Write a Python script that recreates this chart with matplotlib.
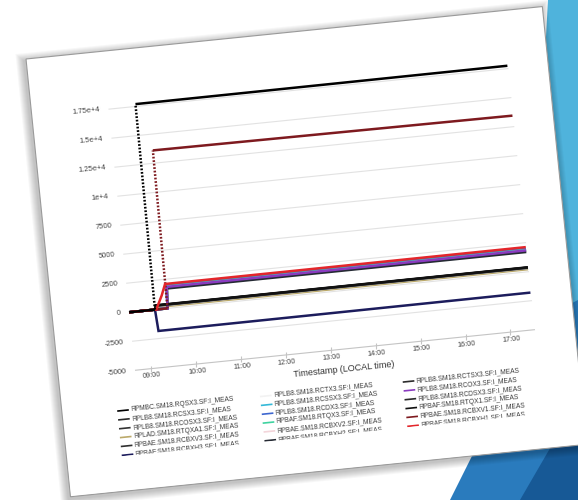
import matplotlib
matplotlib.use("Agg")
import matplotlib.pyplot as plt
from matplotlib.transforms import Affine2D, ScaledTranslation
from matplotlib.patches import Rectangle, Polygon
from matplotlib.markers import MarkerStyle
from matplotlib.lines import Line2D

plt.rcParams['font.family'] = ['Liberation Sans', 'DejaVu Sans']

# sample times, hours of local time
hours = [8.634, 9.21, 9.24, 9.39, 9.49, 9.52, 17.53]

# current per converter (A)
rqsx3 = [0, 0, 17700, 17700, 17700, 17700, 17750]
rcsx3 = [0, 0, 320, 320, 320, 320, 340]
rcosx3 = [0, 0, 300, 300, 300, 300, 320]
rtqxa1 = [0, 0, 200, 200, 200, 200, 220]
rcbxv3 = [0, 0, 310, 310, 310, 310, 330]
rcbxh3 = [0, 0, -1850, -1850, -1850, -1850, -1800]
rctx3 = [0, 0, 300, 300, 300, 300, 320]
rcssx3 = [0, 0, 0, 0, 0, 1900, 1900]
rcdx3 = [0, 0, 0, 0, 0, 1960, 1970]
rtqx3 = [0, 0, 0, 0, 0, 1880, 1880]
rcbxv2 = [0, 0, 0, 0, 0, 1800, 1800]
rcbxh2 = [0, 0, 0, 0, 0, 1700, 1700]
rctsx3 = [0, 0, 330, 330, 330, 330, 350]
rcox3 = [0, 0, 0, 0, 0, 1840, 1840]
rcdsx3 = [0, 0, 340, 340, 340, 340, 360]
rtqx1 = [0, 0, 360, 360, 360, 360, 380]
rcbxv1 = [0, 0, 0, 0, 0, 13600, 13450]
rcbxh1 = [0, 0, 0, 1150, 2100, 2100, 2120]

names = ["RPMBC.SM18.RQSX3.SF:I_MEAS", "RPLB8.SM18.RCSX3.SF:I_MEAS",
         "RPLB8.SM18.RCOSX3.SF:I_MEAS", "RPLAD.SM18.RTQXA1.SF:I_MEAS",
         "RPBAE.SM18.RCBXV3.SF:I_MEAS", "RPBAF.SM18.RCBXH3.SF:I_MEAS",
         "RPLB8.SM18.RCTX3.SF:I_MEAS", "RPLB8.SM18.RCSSX3.SF:I_MEAS",
         "RPLB8.SM18.RCDX3.SF:I_MEAS", "RPBAF.SM18.RTQX3.SF:I_MEAS",
         "RPBAE.SM18.RCBXV2.SF:I_MEAS", "RPBAF.SM18.RCBXH2.SF:I_MEAS",
         "RPLB8.SM18.RCTSX3.SF:I_MEAS", "RPLB8.SM18.RCOX3.SF:I_MEAS",
         "RPLB8.SM18.RCDSX3.SF:I_MEAS", "RPBAF.SM18.RTQX1.SF:I_MEAS",
         "RPBAE.SM18.RCBXV1.SF:I_MEAS", "RPBAF.SM18.RCBXH1.SF:I_MEAS"]
values = [rqsx3, rcsx3, rcosx3, rtqxa1, rcbxv3, rcbxh3,
          rctx3, rcssx3, rcdx3, rtqx3, rcbxv2, rcbxh2,
          rctsx3, rcox3, rcdsx3, rtqx1, rcbxv1, rcbxh1]
colors = ['#000000', '#2a2a2a', '#333333', '#bba96a', '#303030', '#1c1c5c',
          '#f2f2f2', '#35b9d8', '#3d66cf', '#3fd3a0', '#f3d5da', '#252a33',
          '#2b2b2b', '#8a3bc0', '#2a2a2a', '#111111', '#7e1a1f', '#e3262b']

y_ticks = [-5000, -2500, 0, 2500, 5000, 7500, 10000, 12500, 15000, 17500]
y_labels = ['-5000', '-2500', '0', '2500', '5000', '7500', '1e+4', '1.25e+4', '1.5e+4', '1.75e+4']
x_ticks = [9, 10, 11, 12, 13, 14, 15, 16, 17]
x_labels = ['%02d:00' % h for h in x_ticks]

TILT = 5.8
W, H = 578, 500
fig = plt.figure(figsize=(W / 100, H / 100), dpi=100)
fig.patch.set_facecolor('white')

img = Affine2D().scale(1, -1).translate(0, H)          # pixel coords, y down
rot = Affine2D().rotate_deg_around(26, 441, TILT)      # flat card -> tilted card


def off(dx, dy):
    return ScaledTranslation(dx / 100, dy / 100, fig.dpi_scale_trans)


# slide background shapes
fig.add_artist(Polygon([(548, 0), (578, 0), (578, 330), (530, 330)], transform=img,
                       facecolor='#4fb3dc', edgecolor='none', zorder=-6))
fig.add_artist(Polygon([(540, 320), (578, 300), (578, 500), (450, 500)], transform=img,
                       facecolor='#2a7bbd', edgecolor='none', zorder=-6))
fig.add_artist(Polygon([(578, 400), (578, 500), (520, 500)], transform=img,
                       facecolor='#175996', edgecolor='none', zorder=-6))

# card shadow + card
for i in range(1, 9):
    fig.add_artist(Rectangle((26 - 2 - i, 1 - 2 - i), 519 + 2 * i, 440 + 2 * i, transform=rot,
                             facecolor='black', alpha=0.03, edgecolor='none', zorder=-5))
fig.add_artist(Rectangle((26, 1), 519, 440, transform=rot, facecolor='white',
                         edgecolor='#9a9a9a', lw=0.8, zorder=-4))

ax = fig.add_axes([103 / W, 120.3 / H, 402 / W, 290.7 / H])
ax.set_xlim(8.634, 17.547)
ax.set_ylim(-5000, 19924)
ax.set_axis_off()
x0, x1 = ax.get_xlim()
T = ax.transData + rot

ax.hlines(y_ticks[1:], x0, x1, colors='#e2e2e2', lw=0.8, transform=T, clip_on=False, zorder=1)
ax.hlines(y_ticks[:1], x0, x1, colors='#c4c4c4', lw=0.8, transform=T, clip_on=False, zorder=1)
ax.plot(x_ticks, [y_ticks[0]] * len(x_ticks), ls='none',
        marker=MarkerStyle('|', transform=Affine2D().rotate_deg(TILT)), ms=4,
        mec='#c4c4c4', mew=0.8, transform=T, clip_on=False)

for y, lab in zip(y_ticks, y_labels):
    ax.text(x0, y, lab, transform=ax.transData + off(-8.5, 0) + rot, ha='right', va='center',
            rotation=TILT, rotation_mode='anchor', fontsize=5.5, color='#444444', clip_on=False)
for h, lab in zip(x_ticks, x_labels):
    ax.text(h, y_ticks[0], lab, transform=ax.transData + off(0, -7.5) + rot, ha='center', va='center',
            rotation=TILT, rotation_mode='anchor', fontsize=5.3, color='#444444', clip_on=False)
ax.text(0.517, 0, 'Timestamp (LOCAL time)', transform=ax.transAxes + off(0, -20.5) + rot,
        ha='center', va='center', rotation=TILT, rotation_mode='anchor', fontsize=6.5,
        color='#333333', clip_on=False)

# later series drawn on top, except the main quad which sits over everything
for k, (vals, col) in enumerate(zip(values, colors)):
    z = 3.5 if k == 0 else 3 + k * 0.01
    kw = dict(color=col, lw=1.8, transform=T, clip_on=False, zorder=z,
              solid_capstyle='butt', solid_joinstyle='miter')
    jumps = [i for i in range(len(vals) - 1) if abs(vals[i + 1] - vals[i]) > 5000]
    if jumps:
        i = jumps[0]
        ax.plot(hours[:i + 1], vals[:i + 1], **kw)
        ax.plot(hours[i:i + 2], vals[i:i + 2], ls=(0, (0.7, 0.7)), **kw)
        ax.plot(hours[i + 1:], vals[i + 1:], **kw)
    else:
        ax.plot(hours, vals, **kw)

# legend, 3 columns x 6 rows, flat card coords (u right, v down)
leg_u = [56, 199.5, 343]
leg_v0, leg_dv = 359.5, 8.9
for k, (name, col) in enumerate(zip(names, colors)):
    u = leg_u[k // 6]
    v = leg_v0 + (k % 6) * leg_dv
    fig.add_artist(Line2D([26 + u, 26 + u + 10], [441 - v, 441 - v], transform=rot,
                          color=col, lw=1.2, zorder=4))
    fig.text(26 + u + 13, 441 - v, name, transform=rot, ha='left', va='center',
             rotation=TILT, rotation_mode='anchor', fontsize=4.8, color='#3a3a3a', zorder=4)

# the screenshot cuts the last legend row
fig.add_artist(Rectangle((27, 2), 517, 441 - 405 - 2, transform=rot, facecolor='white',
                         edgecolor='none', zorder=6))

fig.savefig('out.png', dpi=100, facecolor='white')
